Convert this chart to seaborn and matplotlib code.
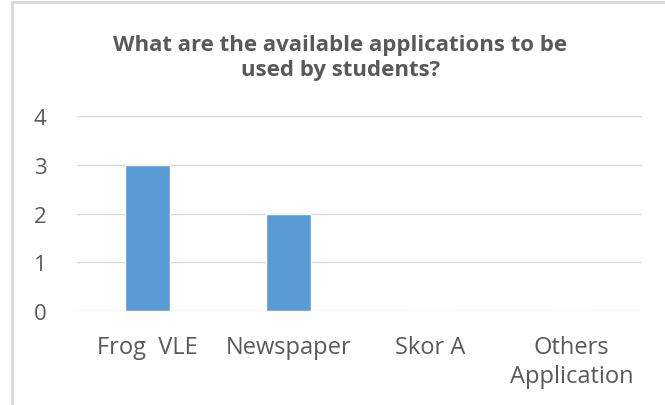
import matplotlib.pyplot as plt
import seaborn as sns
from matplotlib.patches import Rectangle

categories = ['Frog  VLE', 'Newspaper', 'Skor A', 'Others\nApplication']
counts = [3, 2, 0, 0]
yticks = [0, 1, 2, 3, 4]

sns.set_style('white')
plt.rcParams['font.family'] = ['Open Sans', 'DejaVu Sans']

fig = plt.figure(figsize=(6.65, 4.06), dpi=100)
ax = fig.add_axes([0.1158, 0.2315, 0.8496, 0.4803])

sns.barplot(x=categories, y=counts, color='#5B9BD5', width=0.32, saturation=1, ax=ax)

ax.set_ylim(0, 4)
ax.set_yticks(yticks)
ax.yaxis.grid(True, color='#D9D9D9', linewidth=1)
ax.set_axisbelow(True)
for s in ax.spines.values():
    s.set_visible(False)
ax.tick_params(axis='y', length=0, pad=22, labelsize=16, labelcolor='#595959')
ax.tick_params(axis='x', length=0, pad=17, labelsize=17, labelcolor='#595959')
for lbl in ax.get_xticklabels():
    lbl.set_linespacing(1.3)

fig.text(0.512, 0.856, 'What are the available applications to be\nused by students?',
         ha='center', va='center', fontsize=16, fontweight='bold',
         color='#595959', linespacing=1.25)

fig.patches.append(Rectangle((12 / 665, -0.05), 1.2, 1 - 3 / 406 + 0.05,
                             transform=fig.transFigure, fill=False,
                             edgecolor='#D9D9D9', linewidth=2))

fig.savefig('out.png', dpi=100)
